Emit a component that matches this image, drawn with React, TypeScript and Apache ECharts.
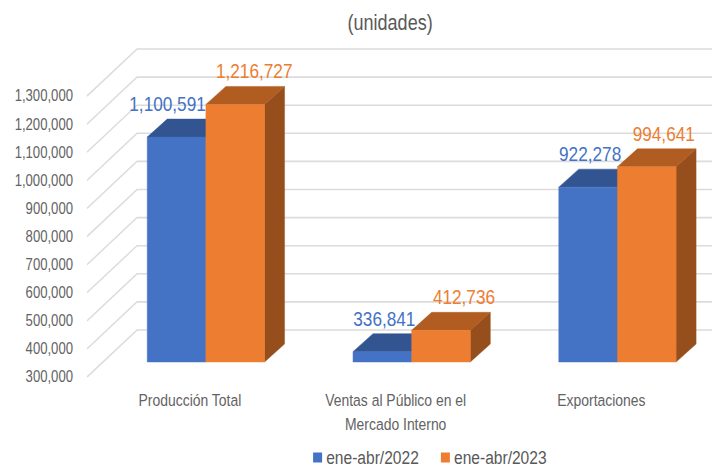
import React, { useEffect, useRef } from "react";
import * as echarts from "echarts";

const categories = ["Producción Total", "Ventas al Público en el\nMercado Interno", "Exportaciones"];
const values2022 = [1100591, 336841, 922278];
const values2023 = [1216727, 412736, 994641];
const wallTicks = [300000, 400000, 500000, 600000, 700000, 800000, 900000, 1000000, 1100000, 1200000, 1300000];
const seriesNames = ["ene-abr/2022", "ene-abr/2023"];

const FONT = '"Liberation Sans", sans-serif';
const fmt = (v: number) => v.toLocaleString("en-US");

// The reference's lettering is condensed: the whole chart is drawn wider and squeezed horizontally.
const S = 0.82;
const X = (x: number) => x / S;

// Chart styling and 3D projection (in page pixels)
const WALL_DX = 50, WALL_DY = 47, WALL_END = 712;
const PLANE_DX = 16, PLANE_DY = 15;
const DEPTH_DX = 20, DEPTH_DY = 18;
const BAR_RATIO = 0.285;
const labelOffsets2022 = [-9, 2, 2];
const labelOffsets2023 = [19, 23, 17];

function barSeries(name: string, data: number[], side: -1 | 1, colors: string[], offsets: number[]) {
  return {
    type: "custom",
    name,
    clip: false,
    z: side < 0 ? 3 : 4,
    itemStyle: { color: colors[0] },
    encode: { x: 0, y: 1 },
    data: data.map((v, i) => [i, v]),
    renderItem: (_: any, api: any) => {
      const idx = api.value(0);
      const v = api.value(1);
      const top = api.coord([idx, v]);
      const base = api.coord([idx, 300000]);
      const w = api.size([1, 0])[0] * BAR_RATIO;
      const x0 = top[0] + X(PLANE_DX) + (side < 0 ? -w : 0);
      const x1 = x0 + w;
      const yT = top[1] - PLANE_DY;
      const yB = base[1] - PLANE_DY;
      const ddx = X(DEPTH_DX);
      const sh = (points: number[][], fill: string) => ({ type: "polygon", shape: { points }, style: { fill, stroke: fill, lineWidth: 0.5 } });
      return {
        type: "group",
        children: [
          sh([[x1, yT], [x1 + ddx, yT - DEPTH_DY], [x1 + ddx, yB - DEPTH_DY], [x1, yB]], colors[2]),
          sh([[x0, yT], [x0 + ddx, yT - DEPTH_DY], [x1 + ddx, yT - DEPTH_DY], [x1, yT]], colors[1]),
          sh([[x0, yT], [x1, yT], [x1, yB], [x0, yB]], colors[0]),
          {
            type: "text",
            style: {
              text: fmt(v),
              x: (x0 + x1) / 2 + X(offsets[idx]),
              y: yT - DEPTH_DY - 15,
              fill: colors[0],
              font: `21px ${FONT}`,
              align: "center",
              verticalAlign: "middle",
            },
          },
        ],
      };
    },
  };
}

export default function App() {
  const ref = useRef<HTMLDivElement>(null);
  useEffect(() => {
    document.body.style.margin = "0";
    const chart = echarts.init(ref.current!, undefined, { renderer: "svg" });
    chart.setOption({
      animation: false,
      backgroundColor: "#fff",
      title: {
        text: "(unidades)",
        left: X(386),
        top: 6,
        textAlign: "center",
        textStyle: { fontFamily: FONT, fontSize: 22, fontWeight: "normal", color: "#595959" },
      },
      legend: {
        data: seriesNames,
        left: X(309),
        top: 443,
        icon: "rect",
        itemWidth: X(9),
        itemHeight: 10,
        itemGap: X(22),
        textStyle: { fontFamily: FONT, fontSize: 19, color: "#595959", padding: 0 },
      },
      grid: { left: X(87), right: X(14), top: 96, bottom: 91 },
      xAxis: {
        type: "category",
        data: categories,
        axisLine: { show: false },
        axisTick: { show: false },
        axisLabel: { fontFamily: FONT, fontSize: 17, color: "#636363", lineHeight: 24, margin: 11, interval: 0 },
      },
      yAxis: {
        type: "value",
        min: 300000,
        max: 1300000,
        interval: 100000,
        axisLine: { show: false },
        axisTick: { show: false },
        splitLine: { show: false },
        axisLabel: { fontFamily: FONT, fontSize: 16, color: "#636363", margin: X(14), formatter: (v: number) => fmt(v) },
      },
      series: [
        {
          type: "custom",
          name: "walls",
          clip: false,
          z: 1,
          silent: true,
          encode: { x: 0, y: 1 },
          data: wallTicks.map((t) => [0, t]),
          renderItem: (params: any, api: any) => {
            const y = api.coord([0, api.value(1)])[1];
            const x = params.coordSys.x;
            return {
              type: "polyline",
              shape: { points: [[x, y], [x + X(WALL_DX), y - WALL_DY], [X(WALL_END), y - WALL_DY]] },
              style: { fill: "none", stroke: "#DCDCDC", lineWidth: 1.6 },
            };
          },
        },
        barSeries(seriesNames[0], values2022, -1, ["#4472C4", "#325592", "#2A4A80"], labelOffsets2022),
        barSeries(seriesNames[1], values2023, 1, ["#ED7D31", "#B15C20", "#964F1C"], labelOffsets2023),
      ],
    });
    return () => chart.dispose();
  }, []);
  return (
    <div style={{ width: 718, height: 468, overflow: "hidden", position: "relative" }}>
      <div
        ref={ref}
        style={{ width: X(718), height: 468, transform: `scaleX(${S})`, transformOrigin: "0 0" }}
      />
    </div>
  );
}
